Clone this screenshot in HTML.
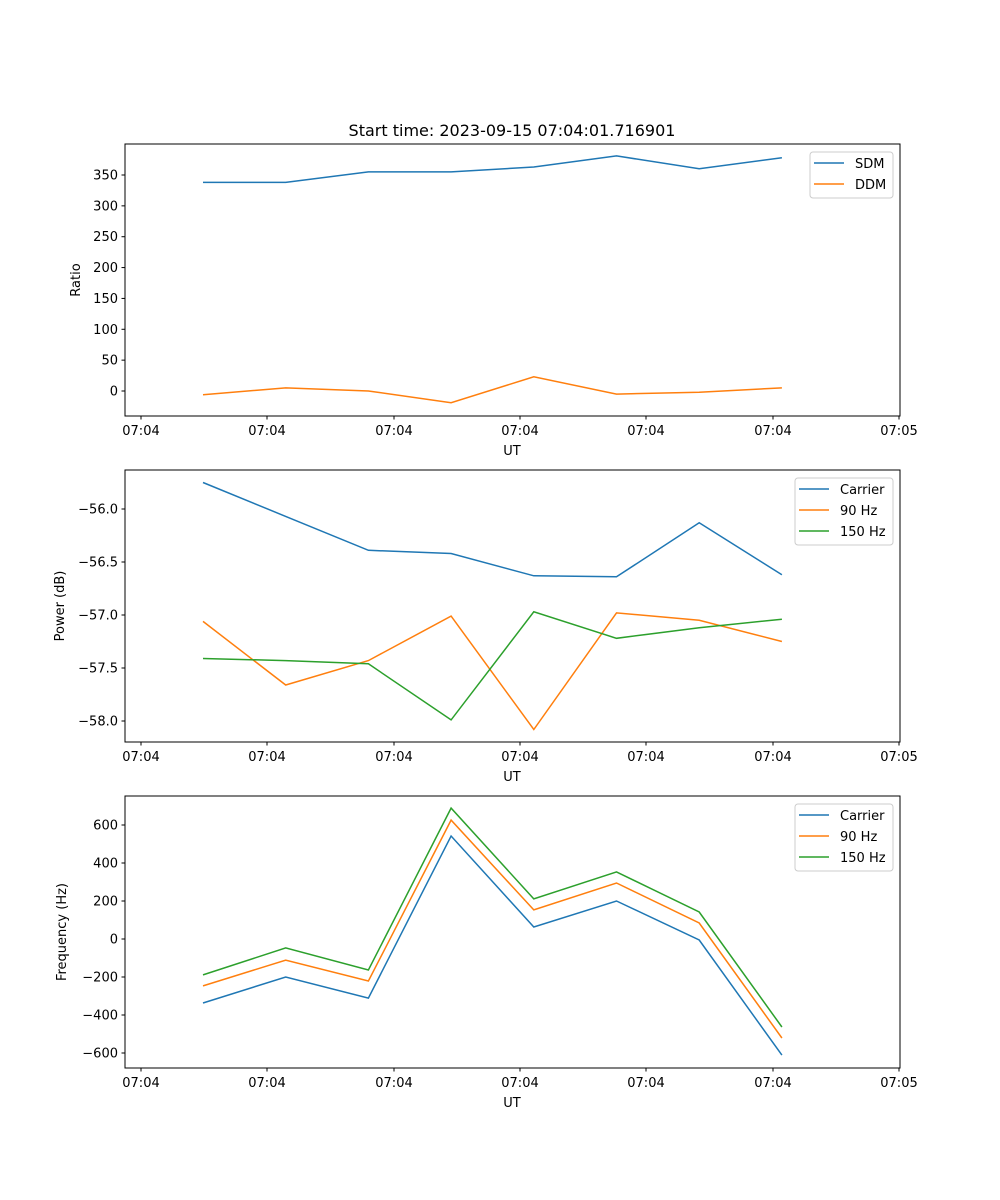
<!DOCTYPE html>
<html><head><meta charset="utf-8"><style>
html,body{margin:0;padding:0;background:#fff;}
svg{display:block;font-family:"DejaVu Sans","Liberation Sans",sans-serif;}
</style></head><body>
<svg id="fig" width="1000" height="1200" xmlns="http://www.w3.org/2000/svg">
<text x="512" y="136" font-size="16" text-anchor="middle">Start time: 2023-09-15 07:04:01.716901</text>
</svg>
<script>
const xTickLabels = ["07:04","07:04","07:04","07:04","07:04","07:04","07:05"];
const sdm = [338,338,355,355,363,381,360,378];
const ddm = [-6,5,0,-19,23,-5,-2,5];
const pCarrier = [-55.75,-56.07,-56.39,-56.42,-56.63,-56.64,-56.13,-56.62];
const p90 = [-57.06,-57.66,-57.43,-57.01,-58.08,-56.98,-57.05,-57.25];
const p150 = [-57.41,-57.43,-57.46,-57.99,-56.97,-57.22,-57.12,-57.04];
const fCarrier = [-337,-200,-311,542,63,200,-5,-611];
const f90 = [-247,-111,-221,626,153,295,84,-521];
const f150 = [-189,-47,-163,689,211,353,142,-463];
const ticks1 = [0,50,100,150,200,250,300,350];
const ticks2 = [-58.0,-57.5,-57.0,-56.5,-56.0];
const ticks3 = [-600,-400,-200,0,200,400,600];

const NS="http://www.w3.org/2000/svg";
const svg=document.getElementById('fig');
function mk(tag,attrs,parent){const e=document.createElementNS(NS,tag);for(const k in attrs)e.setAttribute(k,attrs[k]);(parent||svg).appendChild(e);return e;}
const L=125,R=900;
const xTickPx=[141,267,394,520,646,773,899];
function xs(i){return 203+i*82.7;}

function panel(top,bottom,v0,y0,v1,y1,ticks,fmt,ylabel,ylabX,series,legend,pname){
  const g=mk('g',{});
  
  
  const ys=v=>y0+(v-v0)*(y1-y0)/(v1-v0);
  // series
  series.forEach(s=>{
    const pts=s.data.map((v,i)=>xs(i).toFixed(1)+','+ys(v).toFixed(1)).join(' ');
    const pl=mk('polyline',{points:pts,fill:'none',stroke:s.color,'stroke-width':1.5},g);
    
    
  });
  const fr=mk('rect',{x:L,y:top,width:R-L,height:bottom-top,fill:'none',stroke:'#000','stroke-width':1},g);
  
  
  ticks.forEach(t=>{
    const y=ys(t);
    mk('line',{x1:L-3.5,x2:L,y1:y,y2:y,stroke:'#000'},g);
    const tx=mk('text',{x:L-7,y:y+4.5,'font-size':13,'text-anchor':'end'},g);
    tx.textContent=fmt(t);
    
    
  });
  xTickPx.forEach((x,i)=>{
    mk('line',{x1:x,x2:x,y1:bottom,y2:bottom+3.5,stroke:'#000'},g);
    const tx=mk('text',{x:x,y:bottom+19,'font-size':13,'text-anchor':'middle'},g);
    tx.textContent=xTickLabels[i];
    
    
  });
  const xl=mk('text',{x:512,y:bottom+39,'font-size':13,'text-anchor':'middle'},g);
  xl.textContent='UT';
  
  
  const cy=(top+bottom)/2;
  const yl=mk('text',{x:ylabX,y:cy,'font-size':13,'text-anchor':'middle',transform:`rotate(-90 ${ylabX} ${cy})`},g);
  yl.textContent=ylabel;
  
  
  // legend
  const lg=mk('g',{},g);
  
  
  mk('rect',{x:legend.x,y:top+8,width:legend.w,height:series.length*21+4,rx:3,fill:'#fff',stroke:'#ccc','fill-opacity':0.8},lg);
  series.forEach((s,i)=>{
    const y=top+19+i*21;
    mk('line',{x1:legend.x+4,x2:legend.x+34,y1:y,y2:y,stroke:s.color,'stroke-width':1.5},lg);
    const t=mk('text',{x:legend.x+45,y:y+5,'font-size':13},lg);
    t.textContent=s.label;
    
    
  });
}
const C1='#1f77b4',C2='#ff7f0e',C3='#2ca02c';
panel(144,416,0,391,350,175,ticks1,t=>String(t),'Ratio',80,
 [{data:sdm,color:C1,label:'SDM',name:'line-sdm'},{data:ddm,color:C2,label:'DDM',name:'line-ddm'}],
 {x:810,w:83},'panel-ratio');
panel(470,742,-56.0,509,-58.0,721,ticks2,t=>(t<0?'\u2212':'')+Math.abs(t).toFixed(1),'Power (dB)',64,
 [{data:pCarrier,color:C1,label:'Carrier',name:'line-power-carrier'},{data:p90,color:C2,label:'90 Hz',name:'line-power-90hz'},{data:p150,color:C3,label:'150 Hz',name:'line-power-150hz'}],
 {x:795,w:98},'panel-power');
panel(796,1068,0,939,600,825,ticks3,t=>(t<0?'\u2212':'')+Math.abs(t),'Frequency (Hz)',66,
 [{data:fCarrier,color:C1,label:'Carrier',name:'line-freq-carrier'},{data:f90,color:C2,label:'90 Hz',name:'line-freq-90hz'},{data:f150,color:C3,label:'150 Hz',name:'line-freq-150hz'}],
 {x:795,w:98},'panel-frequency');
</script>
</body></html>
